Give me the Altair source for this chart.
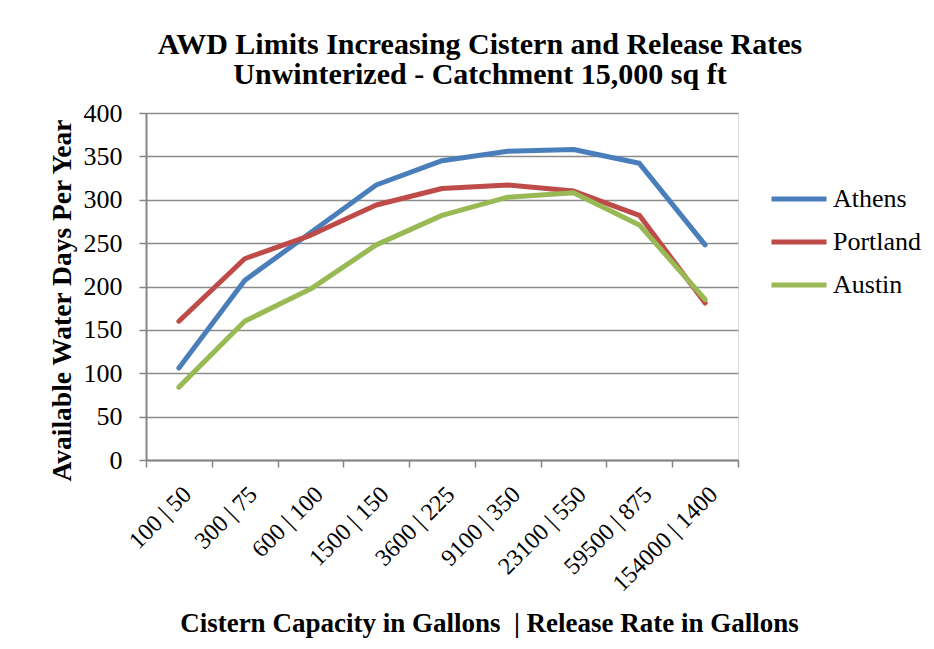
import altair as alt
import pandas as pd

categories = ["100 | 50", "300 | 75", "600 | 100", "1500 | 150", "3600 | 225",
              "9100 | 350", "23100 | 550", "59500 | 875", "154000 | 1400"]
series_names = ["Athens", "Portland", "Austin"]
athens = [106, 207, 262, 317, 345, 356, 358, 342, 248]
portland = [160, 232, 259, 294, 313, 317, 310, 282, 181]
austin = [84, 160, 197, 248, 282, 303, 308, 271, 185]
colors = ["#4A7EBB", "#BE4B48", "#98B954"]

rows = []
for name, vals in zip(series_names, [athens, portland, austin]):
    for i, (c, v) in enumerate(zip(categories, vals)):
        rows.append({"cat": c, "city": name, "value": v, "order": i})
df = pd.DataFrame(rows)

FONT = "Liberation Serif"

chart = alt.Chart(df).mark_line(strokeWidth=5, strokeCap="round", strokeJoin="round").encode(
    x=alt.X("cat:N", sort=categories, bandPosition=0.5,
            scale=alt.Scale(type="band", paddingInner=0, paddingOuter=0),
            axis=alt.Axis(title="Cistern Capacity in Gallons \u00a0| Release Rate in Gallons",
                          labelAngle=-45, labelAlign="right", labelBaseline="top",
                          labelPadding=15, tickBand="extent", tickSize=7,
                          labelFontSize=24, labelFont=FONT, labelColor="black",
                          titleFont=FONT, titleFontSize=27, titleFontWeight="bold",
                          titleColor="black", titleX=343, titleY=163,
                          titleBaseline="middle", titleAlign="center",
                          domainColor="#868686", tickColor="#868686",
                          domainWidth=2, tickWidth=1.5, grid=False)),
    y=alt.Y("value:Q", scale=alt.Scale(domain=[0, 400]),
            axis=alt.Axis(title="Available Water Days Per Year", values=list(range(0, 401, 50)),
                          tickSize=7, labelPadding=17, labelFontSize=26, labelFont=FONT,
                          labelColor="black", titleFont=FONT, titleFontSize=27.5,
                          titleFontWeight="bold", titleColor="black",
                          titleX=-84, titleY=187, titleBaseline="middle", titleAlign="center",
                          titleAngle=270,
                          domainColor="#868686", tickColor="#868686",
                          gridColor="#8C8C8C", gridWidth=1.5,
                          domainWidth=2, tickWidth=1.5)),
    color=alt.Color("city:N", sort=series_names,
                    scale=alt.Scale(domain=series_names, range=colors),
                    legend=alt.Legend(title=None, orient="none", legendX=623, legendY=56,
                                      symbolType="stroke", symbolSize=3025,
                                      symbolStrokeWidth=5, labelFont=FONT,
                                      labelFontSize=26, labelColor="black",
                                      labelOffset=4, rowPadding=-1.5)),
    order="order:Q",
).properties(
    width=592, height=347,
    padding={"left": 146, "top": 113, "right": 196, "bottom": 189},
    autosize=alt.AutoSizeParams(type="none"),
    title=alt.TitleParams(
        text=["AWD Limits Increasing Cistern and Release Rates",
              "Unwinterized - Catchment 15,000 sq ft"],
        font=FONT, fontSize=30, fontWeight="bold", color="black",
        anchor="middle", dx=38, offset=10, lineHeight=30),
).configure_view(stroke=None).configure(background="white")

chart.save("out.html", embed_options={"renderer": "svg", "actions": False})
